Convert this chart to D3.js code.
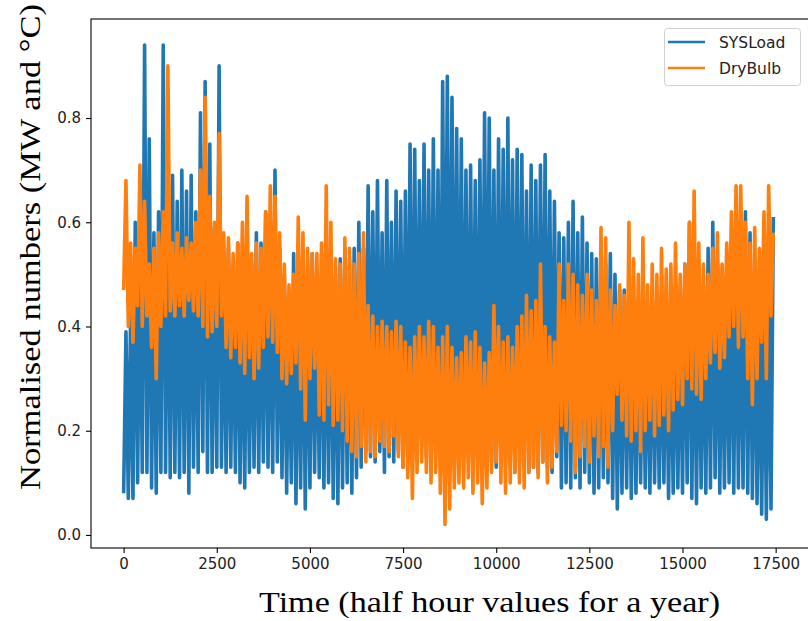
<!DOCTYPE html>
<html>
<head>
<meta charset="utf-8">
<script src="https://cdn.jsdelivr.net/npm/d3@7"></script>
<style>
  body { margin: 0; background: #fff; }
  svg { display: block; }
</style>
</head>
<body>
<span></span>
<script>
// half hourly load vs dry bulb temperature, both normalised
// each series is kept as the low / high of every 125 half hour block

const binStart = d3.range(0, 17500, 125);

const sysLoadLow = [
  0.08, 0.07, 0.07, 0.10, 0.12, 0.12, 0.09, 0.08, 0.12, 0.12,
  0.11, 0.12, 0.11, 0.12, 0.08, 0.13, 0.12, 0.16, 0.12, 0.12,
  0.13, 0.13, 0.12, 0.13, 0.12, 0.10, 0.09, 0.12, 0.13, 0.12,
  0.14, 0.13, 0.12, 0.14, 0.11, 0.08, 0.10, 0.06, 0.09, 0.05,
  0.09, 0.12, 0.11, 0.09, 0.10, 0.07, 0.06, 0.09, 0.10, 0.08,
  0.11, 0.13, 0.16, 0.15, 0.14, 0.16, 0.12, 0.15, 0.14, 0.16,
  0.13, 0.15, 0.14, 0.16, 0.17, 0.15, 0.15, 0.16, 0.14, 0.16,
  0.17, 0.16, 0.16, 0.14, 0.15, 0.16, 0.15, 0.14, 0.15, 0.14,
  0.13, 0.15, 0.14, 0.13, 0.12, 0.14, 0.13, 0.12, 0.13, 0.12,
  0.14, 0.13, 0.12, 0.15, 0.09, 0.10, 0.09, 0.11, 0.09, 0.12,
  0.10, 0.08, 0.09, 0.11, 0.10, 0.07, 0.05, 0.08, 0.09, 0.07,
  0.08, 0.10, 0.09, 0.08, 0.10, 0.09, 0.10, 0.07, 0.08, 0.09,
  0.08, 0.10, 0.07, 0.06, 0.09, 0.08, 0.09, 0.11, 0.08, 0.09,
  0.10, 0.08, 0.09, 0.09, 0.08, 0.07, 0.06, 0.04, 0.03, 0.05
];

const sysLoadHigh = [
  0.39, 0.42, 0.60, 0.58, 0.94, 0.76, 0.58, 0.62, 0.94, 0.70,
  0.69, 0.64, 0.70, 0.66, 0.69, 0.62, 0.81, 0.87, 0.75, 0.59,
  0.90, 0.54, 0.55, 0.52, 0.56, 0.50, 0.55, 0.52, 0.58, 0.56,
  0.62, 0.58, 0.70, 0.55, 0.50, 0.46, 0.54, 0.50, 0.54, 0.52,
  0.54, 0.50, 0.54, 0.52, 0.55, 0.50, 0.53, 0.55, 0.53, 0.55,
  0.60, 0.55, 0.67, 0.62, 0.68, 0.58, 0.68, 0.60, 0.66, 0.64,
  0.66, 0.75, 0.74, 0.68, 0.75, 0.70, 0.76, 0.70, 0.87, 0.88,
  0.84, 0.78, 0.76, 0.70, 0.71, 0.68, 0.72, 0.81, 0.80, 0.70,
  0.76, 0.74, 0.80, 0.72, 0.74, 0.73, 0.66, 0.71, 0.68, 0.71,
  0.73, 0.66, 0.64, 0.58, 0.57, 0.60, 0.64, 0.58, 0.61, 0.56,
  0.54, 0.53, 0.55, 0.52, 0.54, 0.50, 0.47, 0.47, 0.46, 0.44,
  0.45, 0.44, 0.43, 0.46, 0.44, 0.45, 0.47, 0.44, 0.46, 0.45,
  0.52, 0.60, 0.52, 0.50, 0.48, 0.55, 0.60, 0.52, 0.50, 0.53,
  0.56, 0.58, 0.55, 0.62, 0.58, 0.52, 0.45, 0.50, 0.48, 0.61
];

const dryBulbLow = [
  0.47, 0.40, 0.37, 0.44, 0.40, 0.42, 0.36, 0.30, 0.40, 0.42,
  0.43, 0.42, 0.44, 0.42, 0.45, 0.43, 0.42, 0.40, 0.38, 0.39,
  0.40, 0.42, 0.36, 0.34, 0.36, 0.33, 0.31, 0.34, 0.30, 0.32,
  0.36, 0.38, 0.37, 0.35, 0.30, 0.29, 0.31, 0.33, 0.28, 0.22,
  0.30, 0.32, 0.23, 0.22, 0.25, 0.21, 0.22, 0.20, 0.18, 0.16,
  0.15, 0.17, 0.14, 0.16, 0.15, 0.18, 0.17, 0.16, 0.19, 0.15,
  0.13, 0.11, 0.07, 0.12, 0.14, 0.12, 0.10, 0.12, 0.08, 0.02,
  0.05, 0.09, 0.10, 0.09, 0.11, 0.08, 0.10, 0.06, 0.09, 0.12,
  0.14, 0.10, 0.08, 0.10, 0.12, 0.10, 0.09, 0.12, 0.13, 0.11,
  0.14, 0.10, 0.13, 0.16, 0.21, 0.20, 0.18, 0.12, 0.15, 0.17,
  0.14, 0.19, 0.15, 0.17, 0.13, 0.20, 0.27, 0.22, 0.19, 0.18,
  0.20, 0.16, 0.20, 0.22, 0.19, 0.21, 0.23, 0.20, 0.24, 0.26,
  0.25, 0.30, 0.28, 0.27, 0.26, 0.30, 0.33, 0.35, 0.32, 0.34,
  0.38, 0.40, 0.36, 0.38, 0.30, 0.25, 0.30, 0.37, 0.30, 0.42
];

const dryBulbHigh = [
  0.68, 0.56, 0.55, 0.71, 0.64, 0.52, 0.55, 0.58, 0.62, 0.90,
  0.56, 0.58, 0.55, 0.57, 0.56, 0.60, 0.70, 0.84, 0.65, 0.60,
  0.77, 0.58, 0.57, 0.54, 0.56, 0.60, 0.65, 0.54, 0.56, 0.55,
  0.62, 0.67, 0.65, 0.58, 0.52, 0.48, 0.50, 0.61, 0.58, 0.55,
  0.54, 0.54, 0.56, 0.67, 0.60, 0.53, 0.52, 0.57, 0.55, 0.52,
  0.54, 0.58, 0.44, 0.42, 0.40, 0.41, 0.40, 0.39, 0.41, 0.40,
  0.37, 0.36, 0.38, 0.40, 0.38, 0.41, 0.40, 0.36, 0.38, 0.40,
  0.36, 0.34, 0.35, 0.38, 0.37, 0.39, 0.36, 0.33, 0.35, 0.44,
  0.40, 0.37, 0.38, 0.36, 0.40, 0.42, 0.46, 0.43, 0.45, 0.52,
  0.40, 0.38, 0.37, 0.52, 0.45, 0.52, 0.50, 0.48, 0.46, 0.50,
  0.47, 0.45, 0.59, 0.57, 0.47, 0.44, 0.48, 0.46, 0.60, 0.53,
  0.50, 0.57, 0.48, 0.52, 0.50, 0.55, 0.51, 0.52, 0.56, 0.50,
  0.52, 0.60, 0.66, 0.56, 0.52, 0.50, 0.55, 0.58, 0.52, 0.56,
  0.62, 0.67, 0.67, 0.60, 0.56, 0.59, 0.55, 0.62, 0.67, 0.58
];

const xTicks = [0, 2500, 5000, 7500, 10000, 12500, 15000, 17500];
const yTicks = [0.0, 0.2, 0.4, 0.6, 0.8];

const seriesNames = ["SYSLoad", "DryBulb"];
const colours = ["#1f77b4", "#ff7f0e"];

var width = 808;
var height = 621;
var margin = {top: 19, right: -1, bottom: 73, left: 91};

let x = d3.scaleLinear()
    .domain([-876, 18395])
    .range([margin.left, width - margin.right]);

let y = d3.scaleLinear()
    .domain([-0.025, 0.99])
    .range([height - margin.bottom, margin.top]);

// turn the low/high pairs into one line that swings between them
function toPoints(low, high) {
    let pts = [];
    for (let i = 0; i < binStart.length; i++) {
        pts.push([binStart[i], low[i]]);
        pts.push([binStart[i] + 62.5, high[i]]);
    }
    return pts;
}

let svg = d3.select("span")
    .append("svg")
        .attr("width", width)
        .attr("height", height);

svg.append("defs").append("clipPath")
    .attr("id", "plotclip")
    .append("rect")
        .attr("x", margin.left)
        .attr("y", margin.top)
        .attr("width", width - margin.right - margin.left)
        .attr("height", height - margin.bottom - margin.top);

let line = d3.line()
    .x(d => x(d[0]))
    .y(d => y(d[1]));

let plot = svg.append("g").attr("clip-path", "url(#plotclip)");

plot.append("path")
    .datum(toPoints(sysLoadLow, sysLoadHigh))
    .attr("d", line)
    .attr("fill", "none")
    .attr("stroke", colours[0])
    .attr("stroke-width", 3.6)
    .attr("stroke-linejoin", "round");

plot.append("path")
    .datum(toPoints(dryBulbLow, dryBulbHigh))
    .attr("d", line)
    .attr("fill", "none")
    .attr("stroke", colours[1])
    .attr("stroke-width", 3.6)
    .attr("stroke-linejoin", "round");

// axes
let xAxis = svg.append("g")
    .attr("transform", "translate(0," + (height - margin.bottom) + ")")
    .call(d3.axisBottom(x).tickValues(xTicks).tickFormat(d3.format("d")).tickSize(5).tickPadding(5));

let yAxis = svg.append("g")
    .attr("transform", "translate(" + margin.left + ",0)")
    .call(d3.axisLeft(y).tickValues(yTicks).tickFormat(d3.format(".1f")).tickSize(5).tickPadding(5));

[xAxis, yAxis].forEach(function(a) {
    a.select(".domain").remove();
    a.selectAll("line").attr("stroke", "#000").attr("stroke-width", 1.1);
    a.selectAll("text")
        .style("font-family", "'DejaVu Sans', sans-serif")
        .style("font-size", "15px")
        .attr("fill", "#222");
});

// frame
svg.append("rect")
    .attr("x", margin.left)
    .attr("y", margin.top)
    .attr("width", width - margin.right - margin.left)
    .attr("height", height - margin.bottom - margin.top)
    .attr("fill", "none")
    .attr("stroke", "#000")
    .attr("stroke-width", 1.1);

// axis labels
svg.append("text")
    .text("Time (half hour values for a year)")
    .attr("x", 259)
    .attr("y", 612)
    .attr("textLength", 461)
    .attr("lengthAdjust", "spacingAndGlyphs")
    .style("font-family", "'Liberation Serif', serif")
    .style("font-size", "30px")
    .attr("fill", "#000");

svg.append("text")
    .text("Normalised numbers (MW and \u00B0C)")
    .attr("transform", "translate(40,490) rotate(-90)")
    .attr("textLength", 486)
    .attr("lengthAdjust", "spacingAndGlyphs")
    .style("font-family", "'Liberation Serif', serif")
    .style("font-size", "30px")
    .attr("fill", "#000");

// legend
let legend = svg.append("g");

legend.append("rect")
    .attr("x", 664.5)
    .attr("y", 28.5)
    .attr("width", 136)
    .attr("height", 57)
    .attr("rx", 3)
    .attr("fill", "#fff")
    .attr("fill-opacity", 0.8)
    .attr("stroke", "#d0d0d0");

seriesNames.forEach(function(name, i) {
    let ly = 42 + i * 26;
    legend.append("line")
        .attr("x1", 668).attr("x2", 705)
        .attr("y1", ly).attr("y2", ly)
        .attr("stroke", colours[i])
        .attr("stroke-width", 2.4);
    legend.append("text")
        .text(name)
        .attr("x", 719)
        .attr("y", ly + 6)
        .style("font-family", "'DejaVu Sans', sans-serif")
        .style("font-size", "15.5px")
        .attr("fill", "#222");
});
</script>
</body>
</html>
